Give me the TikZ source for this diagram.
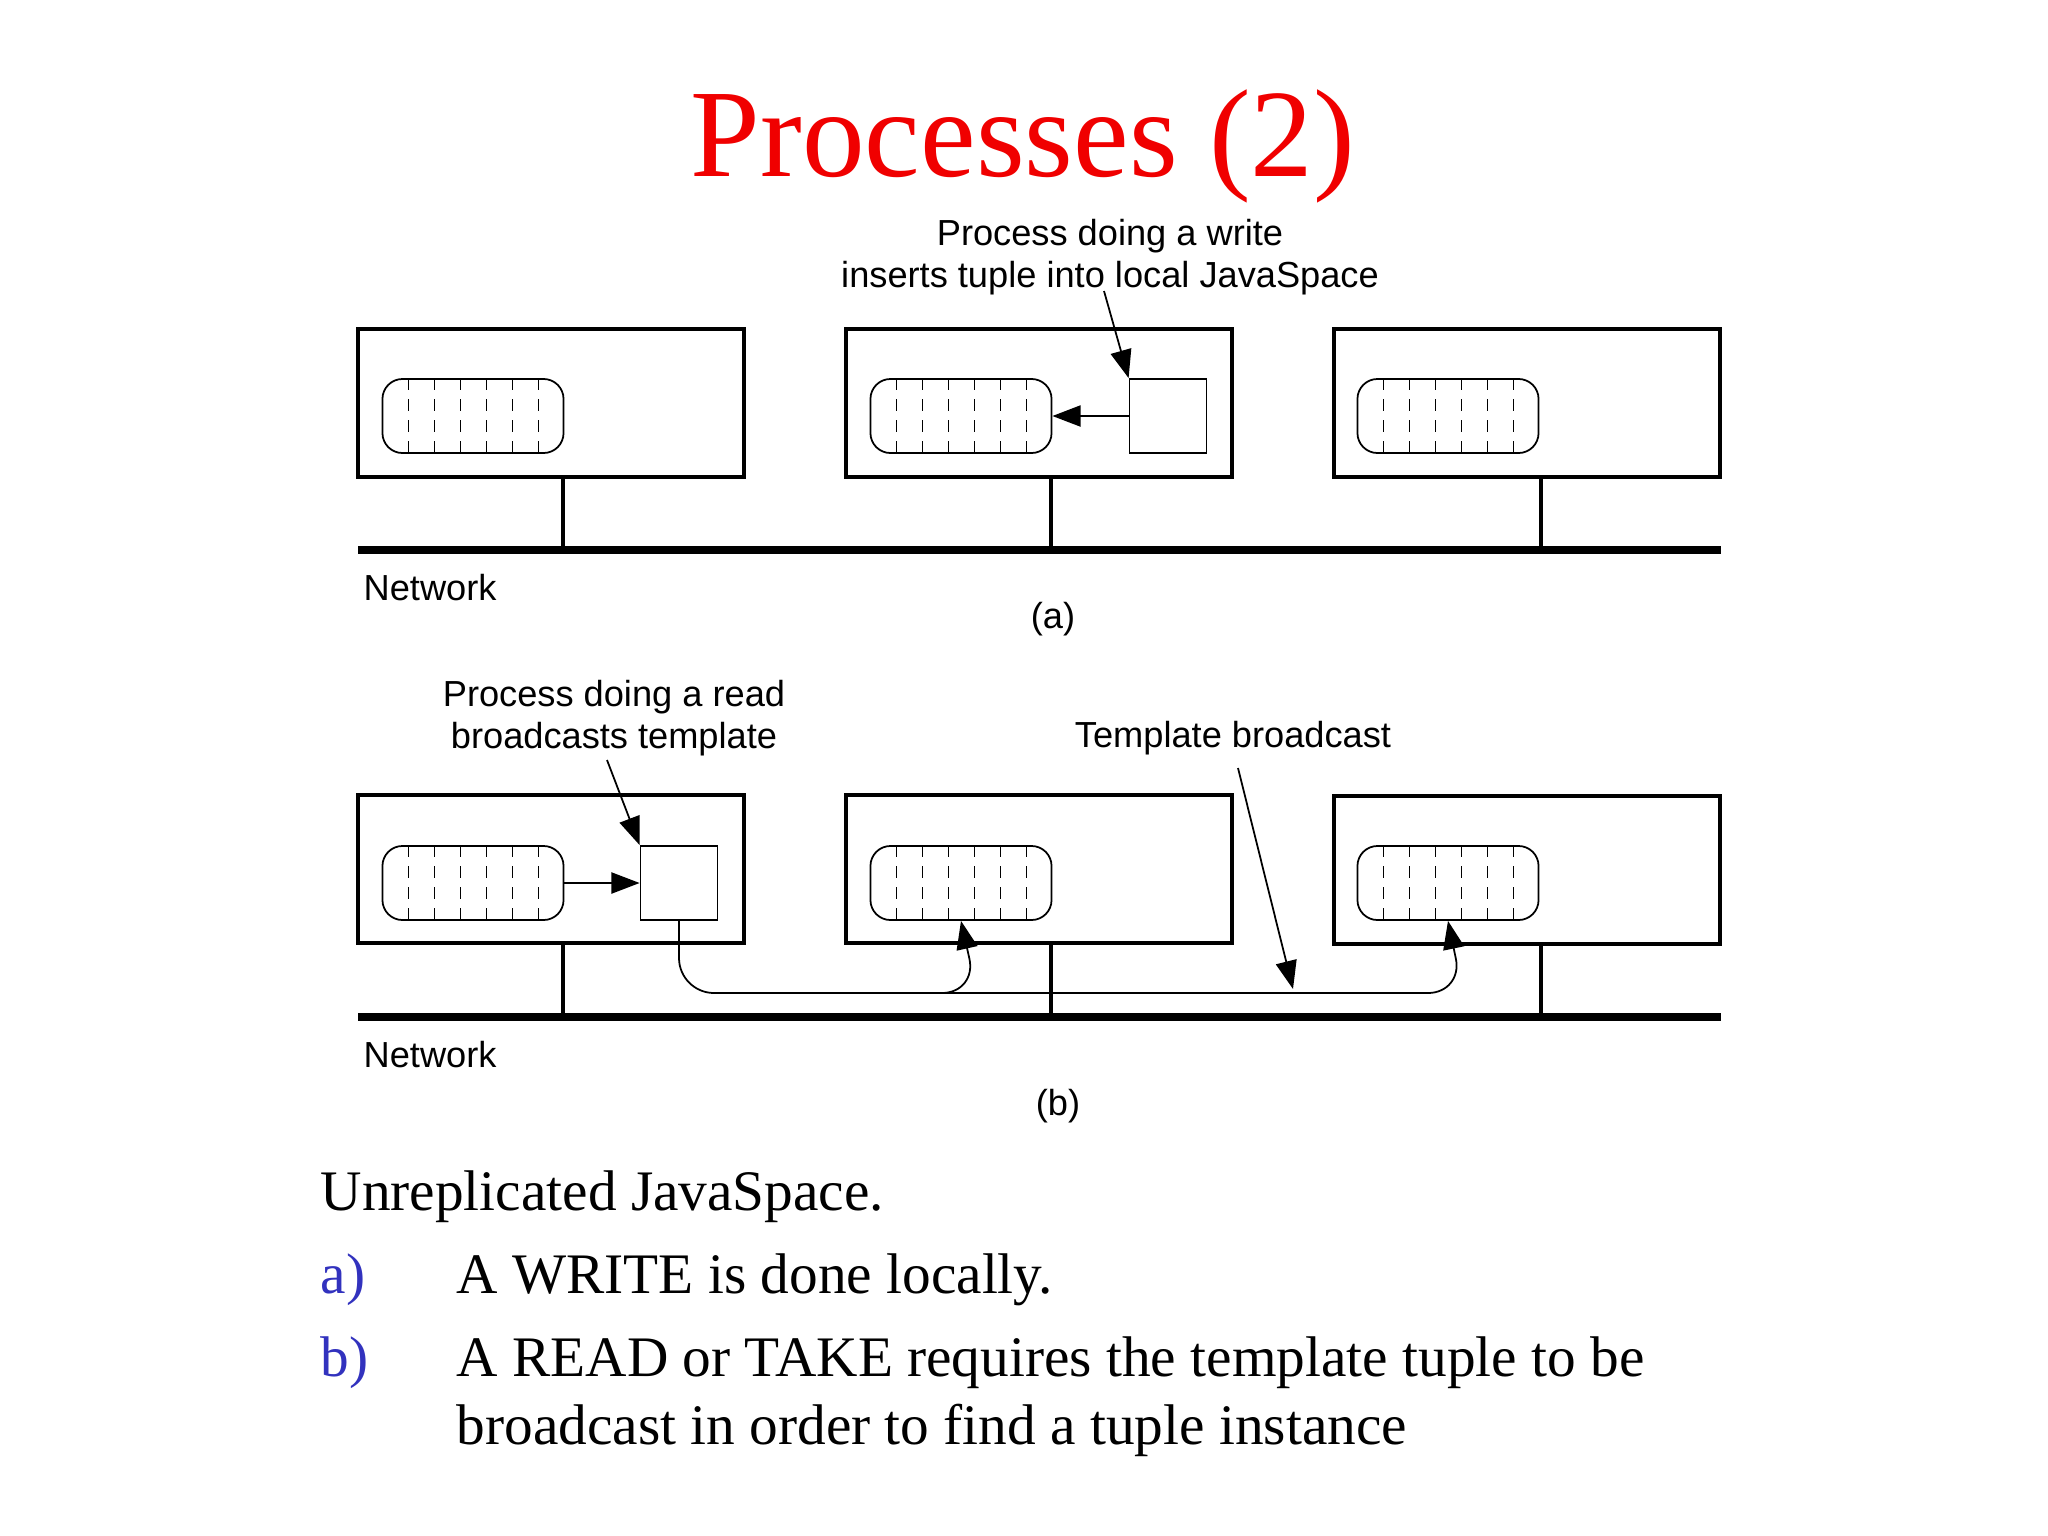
\documentclass[tikz,border=0pt]{standalone}
\usepackage{fontspec}
\setmainfont{Liberation Serif}
\newfontfamily\labelfont{Liberation Sans}
\usetikzlibrary{arrows.meta,positioning}
\definecolor{titlered}{RGB}{240,0,0}
\definecolor{itemblue}{RGB}{50,50,190}
\tikzset{
  host/.style={draw,line width=1.3pt,inner sep=0pt,minimum width=3.86cm,minimum height=1.48cm},
  space/.style={draw,line width=0.5pt,rounded corners=0.2cm,inner sep=0pt,minimum width=1.81cm,minimum height=0.74cm,
    path picture={\foreach \k in {1,...,6}
      \draw[line width=0.5pt,dash pattern=on 3.5pt off 2.5pt]
        ([xshift=\k*0.26cm]path picture bounding box.south west) --
        ([xshift=\k*0.26cm]path picture bounding box.north west);}},
  proc/.style={draw,line width=0.5pt,inner sep=0pt,minimum width=0.77cm,minimum height=0.74cm},
  net/.style={line width=2.4pt},
  stem/.style={line width=1.3pt},
  thin/.style={line width=0.5pt},
  tip/.style={-{Triangle[length=8pt,width=6pt]}},
  lbl/.style={font=\labelfont\fontsize{10.3}{12}\selectfont,align=center,inner sep=0pt},
  body/.style={font=\fontsize{16.3}{20}\selectfont,anchor=base west,inner sep=0pt}
}
\begin{document}
\begin{tikzpicture}[x=0.01cm,y=-0.01cm]
\useasboundingbox (0,0) rectangle (2048,1536);
\node[text=titlered,font=\fontsize{35.6}{40}\selectfont] (title) at (1023,146) {Processes (2)};

% (a)
\node[host] (a1) at (551,403) {};
\node[host] (a2) at (1039,403) {};
\node[host] (a3) at (1527,403) {};
\node[space] (sa1) at (473,416) {};
\node[space] (sa2) at (961,416) {};
\node[space] (sa3) at (1448,416) {};
\node[proc] (wa) at (1168,416) {};
\coordinate (neta-l) at (358,550);
\coordinate (neta-r) at (1721,550);
\draw[net] (neta-l) -- (neta-r);
\foreach \h/\x in {a1/563,a2/1051,a3/1541}
  \draw[stem] (\x,477) -- (\x,550);
\node[lbl] (wtext) at (1110,257) {Process doing a write\\inserts tuple into local JavaSpace};
\draw[thin,tip] (1104,291) -- (wa.north west);
\draw[thin,tip] (wa.west) -- (sa2.east);
\node[lbl,anchor=west] (neta) at (363,588) {Network};
\node[lbl] (capa) at (1053,619) {(a)};

% (b)
\node[host] (b1) at (551,869) {};
\node[host] (b2) at (1039,869) {};
\node[host] (b3) at (1527,870) {};
\node[space] (sb1) at (473,883) {};
\node[space] (sb2) at (961,883) {};
\node[space] (sb3) at (1448,883) {};
\node[proc] (rb) at (679,883) {};
\coordinate (netb-l) at (358,1017);
\coordinate (netb-r) at (1721,1017);
\draw[net] (netb-l) -- (netb-r);
\foreach \h/\x in {b1/563,b2/1051,b3/1541}
  \draw[stem] (\x,943) -- (\x,1017);
\draw[thin,tip] (sb1.east) -- (rb.west);
\node[lbl] (rtext) at (614,718) {Process doing a read\\broadcasts template};
\draw[thin,tip] (607,760) -- (rb.north west);
\draw[thin,tip,rounded corners=0.35cm] (rb.south) -- (679,993) -- (1463,993) -- (sb3.south);
\draw[thin,tip,rounded corners=0.35cm] (930,993) -- (977,993) -- (sb2.south);
\node[lbl] (ttext) at (1233,738) {Template broadcast};
\draw[thin,tip] (1238,768) -- (1293,989);
\node[lbl,anchor=west] (netb) at (363,1055) {Network};
\node[lbl] (capb) at (1058,1106) {(b)};

% caption
\node[body] (l0) at (320,1210) {Unreplicated JavaSpace.};
\node[body,text=itemblue] (ia) at (320,1293) {a)};
\node[body] (ta) at (456,1293) {A WRITE is done locally.};
\node[body,text=itemblue] (ib) at (320,1376) {b)};
\node[body] (tb) at (456,1376) {A READ or TAKE requires the template tuple to be};
\node[body] (tb2) at (456,1444) {broadcast in order to find a tuple instance};
\end{tikzpicture}
\end{document}
